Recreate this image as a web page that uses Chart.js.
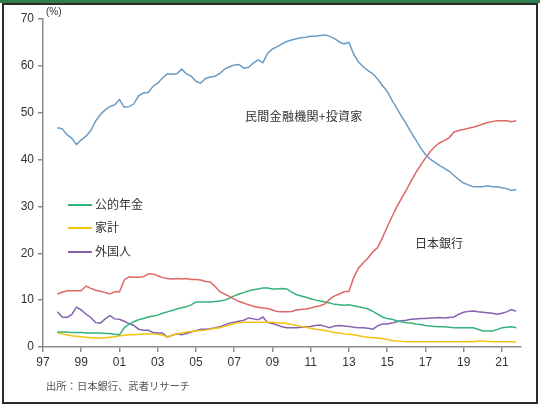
<!DOCTYPE html>
<html>
<head>
<meta charset="utf-8">
<script src="https://cdn.jsdelivr.net/npm/chart.js@4.4.1/dist/chart.umd.min.js"></script>
<style>
  html, body { margin: 0; padding: 0; background: #fff; }
  body { width: 540px; height: 407px; position: relative; overflow: hidden; font-family: "Noto Sans CJK JP", "Liberation Sans", sans-serif; }
  #topband { position: absolute; left: 0; top: 0; width: 540px; height: 3px; background: #2f7d4c; }
  #frame { position: absolute; left: 2px; top: 3px; width: 532px; height: 397px; border: 2px solid #2a2a2a; }
  #c { position: absolute; left: 0; top: 0; }
  .t { position: absolute; white-space: nowrap; color: #333; line-height: 1; }
  .leg { position: absolute; height: 2px; width: 24px; }
</style>
</head>
<body>
<div id="topband"></div>
<div id="frame"></div>
<canvas id="c" width="540" height="407"></canvas>
<div class="t" style="left:46px; top:7px; font-size:10px; font-family:'Liberation Sans',sans-serif;">(%)</div>
<div class="t" style="left:245px; top:110px; font-size:12px; letter-spacing:0.3px;">民間金融機関+投資家</div>
<div class="t" style="left:415px; top:237px; font-size:12px;">日本銀行</div>
<div class="leg" style="left:68px; top:204px; background:#35b27a;"></div>
<div class="t" style="left:95px; top:198px; font-size:12px;">公的年金</div>
<div class="leg" style="left:68px; top:227px; background:#f2c40f;"></div>
<div class="t" style="left:95px; top:221px; font-size:12px;">家計</div>
<div class="leg" style="left:68px; top:251px; background:#8462b0;"></div>
<div class="t" style="left:95px; top:245px; font-size:12px;">外国人</div>
<div class="t" style="left:46px; top:381px; font-size:10.3px; color:#555;">出所：日本銀行、武者リサーチ</div>
<script>
// Quarterly observations, 1997 Q4 .. 2021 Q4 (year as decimal)
const quarters = Array.from({length: 97}, (_, i) => 1997.75 + i * 0.25);

const tickYears = [1997, 1999, 2001, 2003, 2005, 2007, 2009, 2011, 2013, 2015, 2017, 2019, 2021];
const tickLabels = ['97', '99', '01', '03', '05', '07', '09', '11', '13', '15', '17', '19', '21'];

const seriesNames = ['民間金融機関+投資家', '日本銀行', '公的年金', '家計', '外国人'];

const privateInst = [46.8,
  46.6, 45.3, 44.6, 43.2,
  44.2, 45.0, 46.2, 48.2,
  49.6, 50.6, 51.3, 51.7,
  52.8, 51.2, 51.3, 51.9,
  53.6, 54.2, 54.3, 55.6,
  56.3, 57.4, 58.3, 58.2,
  58.3, 59.3, 58.3, 57.8,
  56.7, 56.3, 57.3, 57.6,
  57.8, 58.4, 59.3, 59.8,
  60.2, 60.3, 59.5, 59.7,
  60.6, 61.3, 60.7, 62.7,
  63.6, 64.1, 64.7, 65.2,
  65.5, 65.8, 66.0, 66.1,
  66.3, 66.3, 66.5, 66.6,
  66.3, 65.8, 65.1, 64.7,
  65.0, 62.5, 60.8, 59.8,
  59.0, 58.3, 57.2, 55.8,
  54.6, 52.7, 51.0, 49.2,
  47.6, 45.8, 44.2, 42.5,
  41.1, 40.1, 39.4, 38.7,
  38.1, 37.5, 36.6, 35.7,
  35.0, 34.6, 34.2, 34.2,
  34.2, 34.4, 34.2, 34.2,
  34.0, 33.8, 33.4, 33.6];

const boj = [11.3,
  11.7, 12.0, 12.0, 12.0,
  12.0, 13.0, 12.5, 12.1,
  11.9, 11.6, 11.3, 11.8,
  11.8, 14.3, 15.0, 14.9,
  14.9, 15.0, 15.6, 15.6,
  15.2, 14.8, 14.6, 14.5,
  14.6, 14.5, 14.6, 14.4,
  14.4, 14.3, 14.0, 13.9,
  12.9, 11.8, 11.3, 10.8,
  10.2, 9.7, 9.4, 9.0,
  8.7, 8.5, 8.3, 8.2,
  7.9, 7.6, 7.5, 7.5,
  7.6, 7.9, 8.0, 8.1,
  8.3, 8.6, 8.8, 9.2,
  10.2, 10.9, 11.3, 11.8,
  11.9, 14.8, 16.8, 18.0,
  19.0, 20.3, 21.2, 23.3,
  25.6, 27.8, 29.9, 31.7,
  33.5, 35.4, 37.2, 38.8,
  40.3, 41.7, 42.8, 43.6,
  44.1, 44.7, 45.9, 46.2,
  46.4, 46.7, 46.9, 47.2,
  47.6, 47.9, 48.1, 48.3,
  48.3, 48.3, 48.1, 48.3];

const pension = [3.2,
  3.2, 3.2, 3.1, 3.1,
  3.1, 3.0, 3.0, 3.0,
  3.0, 2.9, 2.9, 2.7,
  2.6, 4.1, 4.9, 5.4,
  5.8, 6.1, 6.4, 6.6,
  6.8, 7.2, 7.5, 7.8,
  8.1, 8.4, 8.6, 9.0,
  9.6, 9.6, 9.6, 9.6,
  9.7, 9.8, 10.0, 10.4,
  10.9, 11.3, 11.6, 12.0,
  12.2, 12.4, 12.6, 12.6,
  12.4, 12.4, 12.5, 12.4,
  11.7, 11.2, 10.9, 10.6,
  10.3, 10.0, 9.8, 9.6,
  9.4, 9.1, 9.0, 8.9,
  9.0, 8.8, 8.6, 8.4,
  8.1, 7.6, 7.0, 6.4,
  6.1, 5.9, 5.6, 5.4,
  5.2, 5.1, 4.9, 4.8,
  4.6, 4.5, 4.4, 4.3,
  4.3, 4.2, 4.1, 4.1,
  4.1, 4.1, 4.1, 3.8,
  3.4, 3.4, 3.4, 3.7,
  4.1, 4.2, 4.3, 4.1];

const households = [3.0,
  2.8, 2.6, 2.4, 2.3,
  2.2, 2.1, 2.0, 1.9,
  1.9, 2.0, 2.1, 2.2,
  2.4, 2.5, 2.6, 2.6,
  2.7, 2.8, 2.8, 2.8,
  2.7, 2.5, 2.2, 2.5,
  2.8, 3.0, 3.2, 3.3,
  3.4, 3.5, 3.6, 3.8,
  4.0, 4.1, 4.4, 4.7,
  5.0, 5.2, 5.3, 5.3,
  5.3, 5.3, 5.3, 5.3,
  5.3, 5.2, 5.1, 5.0,
  4.8, 4.6, 4.4, 4.2,
  4.0, 3.8, 3.7, 3.5,
  3.3, 3.1, 3.0, 2.8,
  2.7, 2.6, 2.4, 2.2,
  2.1, 2.0, 1.9, 1.8,
  1.6, 1.4, 1.3, 1.2,
  1.1, 1.1, 1.1, 1.1,
  1.1, 1.1, 1.1, 1.1,
  1.1, 1.1, 1.1, 1.1,
  1.1, 1.1, 1.1, 1.3,
  1.3, 1.2, 1.1, 1.1,
  1.1, 1.1, 1.1, 1.1];

const foreigners = [7.5,
  6.4, 6.3, 6.9, 8.5,
  7.9, 7.0, 6.3, 5.2,
  5.1, 6.0, 6.7, 6.0,
  5.9, 5.5, 5.0, 4.6,
  3.8, 3.6, 3.6, 3.1,
  3.0, 3.0, 2.1, 2.5,
  2.8, 2.6, 2.9, 3.2,
  3.5, 3.8, 3.8, 3.9,
  4.1, 4.3, 4.7, 5.1,
  5.3, 5.5, 5.7, 6.2,
  6.0, 5.8, 6.4, 5.2,
  5.0, 4.7, 4.3, 4.1,
  4.1, 4.1, 4.2, 4.3,
  4.4, 4.6, 4.7, 4.4,
  4.1, 4.5, 4.6, 4.5,
  4.4, 4.2, 4.1, 4.1,
  4.0, 3.8, 4.5, 4.9,
  4.9, 5.1, 5.4, 5.6,
  5.7, 5.9, 6.0, 6.1,
  6.1, 6.2, 6.2, 6.3,
  6.2, 6.3, 6.4, 7.0,
  7.4, 7.6, 7.7, 7.5,
  7.4, 7.3, 7.2, 7.0,
  7.2, 7.5, 8.0, 7.6];

const seriesValues = [privateInst, boj, pension, households, foreigners];
const seriesColors = ['#6a9cc6', '#e06666', '#35b27a', '#f2c40f', '#8462b0'];

const datasets = seriesValues.map((vals, k) => ({
  label: seriesNames[k],
  data: quarters.map((x, i) => ({x: x, y: vals[i]})),
  borderColor: seriesColors[k],
  backgroundColor: seriesColors[k],
  borderWidth: 1.5,
  pointRadius: 0,
  tension: 0,
  fill: false
}));

const axisColor = '#8c8c8c';
const tickFont = {family: "'Liberation Sans', Arial, sans-serif", size: 12};

new Chart(document.getElementById('c'), {
  type: 'line',
  data: {datasets: datasets},
  options: {
    responsive: false,
    animation: false,
    devicePixelRatio: 1,
    layout: {padding: {left: 0, top: 19, right: 19, bottom: 0}},
    plugins: {legend: {display: false}, tooltip: {enabled: false}},
    scales: {
      x: {
        type: 'linear',
        min: 1997,
        max: 2022,
        afterFit: s => { s.height = 60; },
        afterBuildTicks: s => { s.ticks = tickYears.map(v => ({value: v})); },
        grid: {display: true, drawOnChartArea: false, drawTicks: true, tickLength: 5, color: axisColor, lineWidth: 1.5},
        border: {display: true, color: axisColor, width: 1.5},
        ticks: {
          autoSkip: false, maxRotation: 0, padding: 3, color: '#333', font: tickFont,
          callback: v => { const i = tickYears.indexOf(v); return i >= 0 ? tickLabels[i] : ''; }
        }
      },
      y: {
        min: 0,
        max: 70,
        afterFit: s => { s.width = 43; },
        grid: {display: true, drawOnChartArea: false, drawTicks: true, tickLength: 5, color: axisColor, lineWidth: 1.5},
        border: {display: true, color: axisColor, width: 1.5},
        ticks: {stepSize: 10, padding: 4, color: '#333', font: tickFont}
      }
    }
  }
});
</script>
</body>
</html>
